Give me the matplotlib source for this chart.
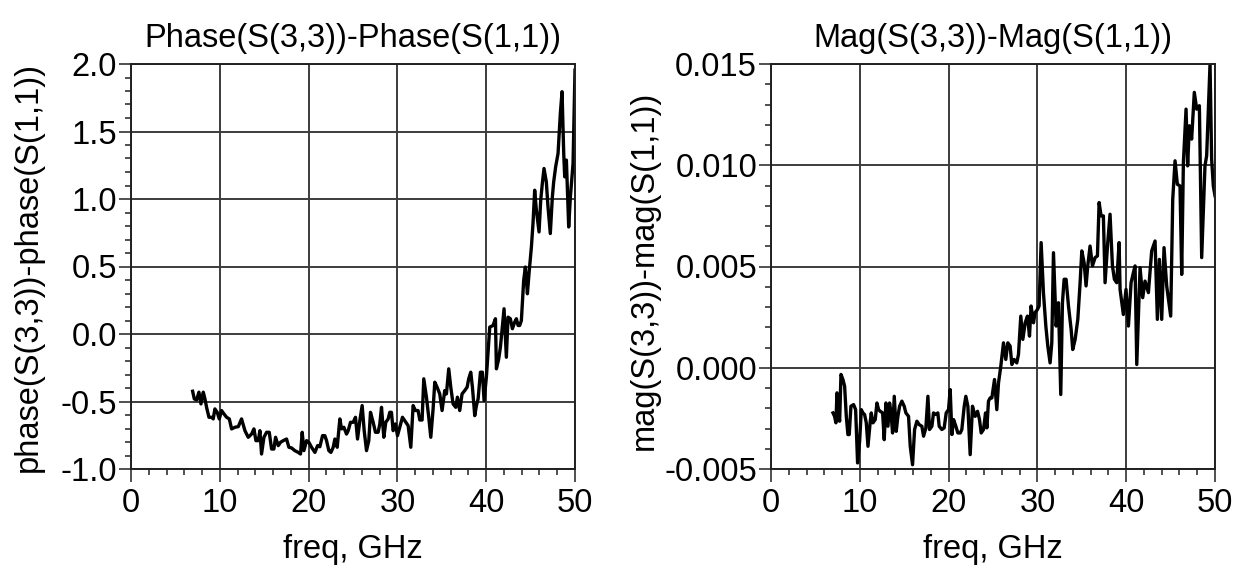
import matplotlib
matplotlib.use("Agg")
import matplotlib.pyplot as plt
from matplotlib.ticker import MultipleLocator, FormatStrFormatter

plt.rcParams['font.family'] = ['Liberation Sans', 'DejaVu Sans']

# Phase difference trace (GHz, degrees)
phase_freq = [
    6.94, 7.13, 7.39, 7.65, 7.88, 8.14, 8.33, 8.51, 8.78, 9.08, 9.26, 9.45, 9.71, 9.94,
    10.20, 10.47, 10.77, 11.07, 11.33, 11.70, 12.08, 12.45, 12.83, 13.20, 13.58, 13.84,
    14.07, 14.33, 14.52, 14.70, 14.97, 15.27, 15.57, 15.83, 16.09, 16.28, 16.58, 16.84,
    17.14, 17.52, 17.78, 18.08, 18.45, 18.83, 19.09, 19.28, 19.47, 19.77, 20.03, 20.33,
    20.71, 21.01, 21.27, 21.57, 21.83, 22.02, 22.28, 22.51, 22.77, 22.96, 23.22, 23.52,
    23.71, 23.97, 24.27, 24.46, 24.72, 25.02, 25.28, 25.51, 25.77, 26.03, 26.26, 26.52,
    26.78, 26.97, 27.27, 27.53, 27.83, 28.02, 28.21, 28.47, 28.69, 28.96, 29.14, 29.33,
    29.52, 29.78, 30.01, 30.27, 30.57, 30.83, 31.21, 31.51, 31.77, 32.03, 32.33, 32.52,
    32.78, 32.97, 33.27, 33.53, 33.76, 34.02, 34.21, 34.47, 34.77, 35.03, 35.33, 35.52,
    35.78, 36.01, 36.27, 36.57, 36.76, 37.02, 37.28, 37.58, 37.85, 38.03, 38.26, 38.45,
    38.71, 38.90, 39.09, 39.35, 39.57, 39.76, 40.02, 40.40, 40.77, 41.04, 41.15, 41.41,
    41.60, 41.82, 42.01, 42.27, 42.46, 42.72, 42.95, 43.21, 43.40, 43.59, 43.77, 43.96,
    44.22, 44.41, 44.64, 44.82, 45.09, 45.27, 45.46, 45.65, 45.95, 46.14, 46.32, 46.51,
    46.77, 46.96, 47.22, 47.45, 47.60, 47.82, 48.09, 48.35, 48.54, 48.73, 48.84, 49.03,
    49.29, 49.48, 49.78, 50.00,
]
phase_diff = [
    -0.424, -0.481, -0.488, -0.431, -0.518, -0.431, -0.481, -0.543, -0.617, -0.617, -0.629,
    -0.555, -0.580, -0.629, -0.567, -0.592, -0.617, -0.629, -0.703, -0.691, -0.686, -0.629,
    -0.716, -0.765, -0.741, -0.703, -0.790, -0.790, -0.716, -0.889, -0.765, -0.728, -0.728,
    -0.852, -0.852, -0.765, -0.827, -0.802, -0.790, -0.778, -0.839, -0.844, -0.864, -0.877,
    -0.889, -0.728, -0.864, -0.790, -0.802, -0.839, -0.877, -0.827, -0.835, -0.753, -0.753,
    -0.790, -0.864, -0.877, -0.839, -0.778, -0.839, -0.629, -0.703, -0.691, -0.741, -0.716,
    -0.654, -0.654, -0.617, -0.778, -0.642, -0.530, -0.716, -0.864, -0.790, -0.580, -0.654,
    -0.728, -0.728, -0.666, -0.543, -0.765, -0.654, -0.629, -0.580, -0.580, -0.716, -0.666,
    -0.753, -0.691, -0.617, -0.642, -0.679, -0.839, -0.530, -0.567, -0.567, -0.637, -0.637,
    -0.332, -0.468, -0.617, -0.765, -0.555, -0.357, -0.394, -0.444, -0.567, -0.419, -0.444,
    -0.258, -0.394, -0.518, -0.543, -0.468, -0.567, -0.444, -0.419, -0.394, -0.332, -0.283,
    -0.394, -0.605, -0.530, -0.481, -0.283, -0.283, -0.493, -0.320, 0.051, 0.063, 0.113,
    -0.258, -0.184, -0.097, 0.051, 0.187, -0.172, 0.125, 0.113, 0.039, 0.088, 0.113, 0.063,
    0.063, 0.100, 0.397, 0.496, 0.298, 0.447, 0.645, 0.818, 1.065, 0.917, 0.756, 0.991,
    1.115, 1.226, 1.127, 0.941, 0.744, 1.016, 1.127, 1.238, 1.337, 1.634, 1.795, 1.337,
    1.164, 1.288, 0.793, 1.016, 1.263, 1.955,
]

# Magnitude difference trace (GHz, linear, x1e-3)
mag_freq = [
    6.98, 7.16, 7.31, 7.43, 7.58, 7.73, 7.88, 8.10, 8.29, 8.48, 8.66, 8.81, 9.00, 9.30,
    9.53, 9.75, 9.98, 10.17, 10.35, 10.54, 10.73, 10.92, 11.18, 11.29, 11.48, 11.74, 11.93,
    12.12, 12.30, 12.57, 12.75, 12.94, 13.17, 13.35, 13.50, 13.69, 13.88, 14.10, 14.29,
    14.48, 14.74, 15.00, 15.19, 15.49, 15.68, 15.94, 16.17, 16.43, 16.69, 16.99, 17.18,
    17.44, 17.67, 17.85, 18.12, 18.30, 18.57, 18.79, 18.94, 19.24, 19.50, 19.73, 19.99,
    20.18, 20.37, 20.56, 20.82, 21.04, 21.31, 21.49, 21.76, 21.94, 22.17, 22.43, 22.69,
    22.99, 23.26, 23.48, 23.67, 23.93, 24.16, 24.31, 24.49, 24.68, 24.87, 25.17, 25.43,
    25.62, 25.88, 26.18, 26.44, 26.67, 26.93, 27.12, 27.38, 27.68, 27.87, 28.13, 28.36,
    28.62, 28.88, 29.11, 29.29, 29.56, 29.74, 30.01, 30.19, 30.42, 30.68, 30.95, 31.17,
    31.43, 31.62, 31.81, 32.11, 32.37, 32.63, 32.82, 33.01, 33.23, 33.50, 33.80, 33.98,
    34.25, 34.55, 34.81, 35.00, 35.26, 35.48, 35.67, 35.93, 36.20, 36.50, 36.76, 36.95,
    37.17, 37.43, 37.62, 37.92, 38.18, 38.45, 38.67, 38.93, 39.20, 39.31, 39.68, 39.98,
    40.25, 40.55, 40.81, 41.00, 41.19, 41.56, 41.86, 42.12, 42.50, 42.87, 43.25, 43.51,
    43.74, 44.00, 44.26, 44.56, 45.01, 45.24, 45.50, 45.76, 46.06, 46.25, 46.44, 46.74,
    46.92, 47.11, 47.37, 47.67, 47.94, 48.24, 48.50, 48.87, 49.06, 49.44, 49.62, 49.81,
    50.00,
]
mag_diff_e3 = [
    -2.23, -2.40, -2.72, -1.24, -2.23, -2.64, -0.33, -0.58, -0.91, -2.40, -3.30, -3.30,
    -1.90, -1.82, -2.07, -4.70, -3.63, -2.07, -2.23, -2.31, -2.72, -3.88, -2.64, -2.23,
    -2.72, -2.56, -1.74, -2.07, -2.15, -2.23, -3.55, -1.74, -2.89, -1.74, -2.15, -3.22,
    -1.41, -3.14, -2.40, -1.90, -1.65, -1.90, -2.23, -2.40, -3.88, -4.79, -3.05, -2.64,
    -2.81, -2.89, -3.38, -2.97, -1.41, -3.05, -2.89, -2.23, -2.31, -2.23, -2.89, -3.05,
    -2.97, -2.23, -2.07, -1.08, -3.30, -2.56, -2.89, -3.22, -3.22, -3.05, -1.90, -1.41,
    -1.90, -4.29, -1.90, -2.40, -2.15, -2.56, -3.22, -3.05, -2.23, -2.97, -1.65, -1.49,
    -1.49, -0.58, -2.07, -0.75, 0.08, 1.23, 0.41, 1.23, 1.07, 0.16, 0.41, 0.24, 0.66,
    2.55, 1.40, 2.22, 2.55, 1.56, 3.05, 2.22, 2.72, 2.88, 3.05, 6.18, 3.71, 2.06, 1.07,
    0.24, 1.23, 5.68, 2.06, 3.21, -1.32, 3.21, 4.37, 4.37, 3.05, 1.89, 0.90, 1.40, 2.39,
    4.20, 5.77, 5.19, 4.04, 5.03, 6.01, 5.03, 5.44, 5.52, 8.16, 7.50, 7.50, 4.20, 6.18,
    7.58, 5.03, 4.37, 4.20, 6.18, 3.87, 2.63, 3.87, 2.06, 4.20, 4.70, 5.03, 0.16, 4.94,
    3.46, 4.28, 3.71, 5.77, 6.26, 2.39, 5.35, 2.39, 5.93, 4.04, 2.55, 8.32, 10.22, 9.06,
    8.98, 4.61, 10.14, 12.77, 9.97, 11.95, 11.29, 13.60, 12.77, 12.94, 5.44, 9.97, 10.47,
    15.00, 10.30, 8.98, 8.49,
]
mag_diff = [v * 1e-3 for v in mag_diff_e3]

freq_ticks = [0, 10, 20, 30, 40, 50]
phase_ticks = [-1.0, -0.5, 0.0, 0.5, 1.0, 1.5, 2.0]
mag_ticks = [-0.005, 0.0, 0.005, 0.010, 0.015]

TICK_FS = 23.5
LABEL_FS = 23.5
TITLE_FS = 23.5

fig = plt.figure(figsize=(12.35, 5.72), dpi=100)
ax1 = fig.add_axes([131 / 1235, 1 - 469 / 572, 444 / 1235, 405 / 572])
ax2 = fig.add_axes([771 / 1235, 1 - 469 / 572, 444 / 1235, 405 / 572])


def style_axes(ax, yticks, yminor, yfmt, title, ylabel, ylabel_xy):
    ax.set_xlim(0, 50)
    ax.set_ylim(yticks[0], yticks[-1])
    ax.set_xticks(freq_ticks)
    ax.set_yticks(yticks)
    ax.xaxis.set_minor_locator(MultipleLocator(2))
    ax.yaxis.set_minor_locator(MultipleLocator(yminor))
    ax.yaxis.set_major_formatter(FormatStrFormatter(yfmt))
    ax.grid(True, which='major', color='#3c3c3c', linewidth=1.4)
    ax.set_axisbelow(True)
    for s in ax.spines.values():
        s.set_color('#202020')
        s.set_linewidth(1.4)
    ax.tick_params(which='major', direction='out', length=9, width=1.1,
                   labelsize=TICK_FS, color='#202020', pad=4.5)
    ax.tick_params(axis='y', which='major', pad=1)
    ax.tick_params(which='minor', direction='out', length=4.5, width=1.1, color='#202020')
    ax.set_title(title, fontsize=TITLE_FS, pad=12)
    ax.set_xlabel('freq, GHz', fontsize=LABEL_FS)
    ax.xaxis.set_label_coords(0.5, -0.16)
    ax.set_ylabel(ylabel, fontsize=LABEL_FS)
    ax.yaxis.set_label_coords(*ylabel_xy)


ax1.plot(phase_freq, phase_diff, color='black', linewidth=2.4)
style_axes(ax1, phase_ticks, 0.1, '%.1f',
           'Phase(S(3,3))-Phase(S(1,1))', 'phase(S(3,3))-phase(S(1,1))',
           (-0.196, 0.50))

ax2.plot(mag_freq, mag_diff, color='black', linewidth=2.4)
style_axes(ax2, mag_ticks, 0.001, '%.3f',
           'Mag(S(3,3))-Mag(S(1,1))', 'mag(S(3,3))-mag(S(1,1))',
           (-0.25, 0.49))

fig.savefig('out.png', dpi=100, facecolor='white')
